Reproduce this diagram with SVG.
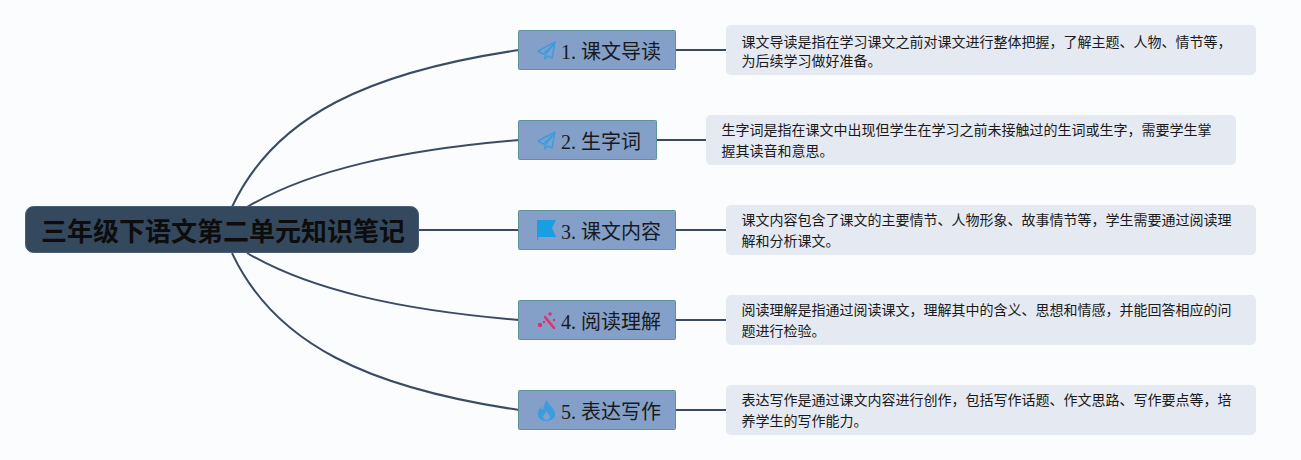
<svg xmlns="http://www.w3.org/2000/svg" width="1301" height="460" viewBox="0 0 1301 460">
<style>
.cjk{font-family:"Liberation Serif","Noto Sans CJK SC",serif}
.root{fill:#34495e;stroke:#4a5d75;stroke-width:1}
.t{font-family:"Noto Sans CJK SC","Liberation Sans",sans-serif;font-size:26px;font-weight:700;fill:#0d0d0d}
.b{fill:#84a0c8;stroke:#5f9198;stroke-width:1}
.l{font-size:20px;fill:#1a1a1a}
.n{fill:#e4e9f2}
.d{font-family:"Noto Sans CJK SC","Liberation Sans",sans-serif;font-size:14px;fill:#1a1a1a}
.c{fill:none;stroke:#3b4a63;stroke-width:2}
</style>
<rect width="1301" height="460" fill="#fbfcfd"/>
<g id="connectors">
<path class="c" d="M232 207C275 115 370 72 519 50"/>
<path class="c" d="M247 207C310 170 400 150 519 140"/>
<path class="c" d="M419 230H519"/>
<path class="c" d="M247 253C310 290 400 310 519 320"/>
<path class="c" d="M232 253C275 345 370 388 519 410"/>
<path class="c" d="M676 50H726"/>
<path class="c" d="M656 140H706"/>
<path class="c" d="M676 230H726"/>
<path class="c" d="M676 320H726"/>
<path class="c" d="M676 410H726"/>
</g>
<g id="root"><rect class="root" x="25.500" y="206.500" width="393" height="46" rx="8"/><text class="t" x="41" y="241">三年级下语文第二单元知识笔记</text></g>
<g id="n1"><rect class="b" x="518.500" y="30.500" width="157" height="39" rx="1"/>
<path d="M555 42L538 51L543 54L554 44L545 55V59L548 56L552 58Z" fill="none" stroke="#3d9be0" stroke-width="1.500" stroke-linejoin="round"/>
<text class="cjk l" x="561" y="59">1. 课文导读</text></g>
<g id="n1d"><rect class="n" x="726" y="25" width="530" height="50" rx="5"/><text class="d" x="741.500" y="46.500">课文导读是指在学习课文之前对课文进行整体把握，了解主题、人物、情节等，</text><text class="d" x="741.500" y="65.500">为后续学习做好准备。</text></g>
<g id="n2"><rect class="b" x="518.500" y="120.500" width="138" height="39" rx="1"/>
<path d="M555 132L538 141L543 144L554 134L545 145V149L548 146L552 148Z" fill="none" stroke="#3d9be0" stroke-width="1.500" stroke-linejoin="round"/>
<text class="cjk l" x="561" y="149">2. 生字词</text></g>
<g id="n2d"><rect class="n" x="706" y="115" width="530" height="50" rx="5"/><text class="d" x="721.500" y="134.500">生字词是指在课文中出现但学生在学习之前未接触过的生词或生字，需要学生掌</text><text class="d" x="721.500" y="155.500">握其读音和意思。</text></g>
<g id="n3"><rect class="b" x="518.500" y="210.500" width="157" height="39" rx="1"/>
<path d="M537 240V220H556L552 228L556 237H538V240Z" fill="#1b9de2"/>
<text class="cjk l" x="561" y="239">3. 课文内容</text></g>
<g id="n3d"><rect class="n" x="726" y="205" width="530" height="50" rx="5"/><text class="d" x="741.500" y="224.500">课文内容包含了课文的主要情节、人物形象、故事情节等，学生需要通过阅读理</text><text class="d" x="741.500" y="245.500">解和分析课文。</text></g>
<g id="n4"><rect class="b" x="518.500" y="300.500" width="157" height="39" rx="1"/>
<path d="M545 317L554 328" stroke="#e0306f" stroke-width="2.500" stroke-linecap="round"/><circle cx="540" cy="325" r="2.200" fill="#e0306f"/><circle cx="550" cy="314" r="1.800" fill="#e0306f"/><circle cx="554" cy="320" r="1.200" fill="#e0306f"/><circle cx="544" cy="322" r="1.200" fill="#e0306f"/>
<text class="cjk l" x="561" y="329">4. 阅读理解</text></g>
<g id="n4d"><rect class="n" x="726" y="295" width="530" height="50" rx="5"/><text class="d" x="741.500" y="314.500">阅读理解是指通过阅读课文，理解其中的含义、思想和情感，并能回答相应的问</text><text class="d" x="741.500" y="335.500">题进行检验。</text></g>
<g id="n5"><rect class="b" x="518.500" y="390.500" width="157" height="39" rx="1"/>
<path fill-rule="evenodd" d="M547 400C548 405 554 407 555 413C556 418 552 421 546 421C540 421 537 417 538 412C539 409 540 408 541 407C541 409 542 410 543 410C544 406 544 403 547 400ZM546.500 411C545 414 543 415 543 417C543 419 545 420 546.500 420C548 420 550 419 550 417C550 415 548 414 546.500 411Z" fill="#3d9be0"/>
<text class="cjk l" x="561" y="419">5. 表达写作</text></g>
<g id="n5d"><rect class="n" x="726" y="385" width="530" height="50" rx="5"/><text class="d" x="741.500" y="404.500">表达写作是通过课文内容进行创作，包括写作话题、作文思路、写作要点等，培</text><text class="d" x="741.500" y="425.500">养学生的写作能力。</text></g>
</svg>
